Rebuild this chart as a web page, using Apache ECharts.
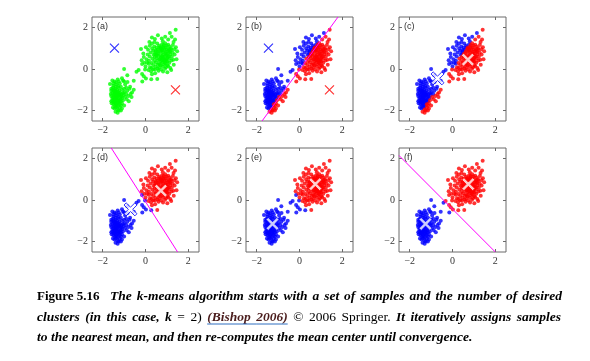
<!DOCTYPE html>
<html><head><meta charset="utf-8">
<script src="https://cdn.jsdelivr.net/npm/echarts@6/dist/echarts.min.js"></script>
<style>html,body{margin:0;padding:0;background:#fff}#c{width:590px;height:361px}</style>
</head><body><div id="c"></div>
<script>
// ---------------- DATA ----------------
const lowerCluster = [
[-1.55,-0.55],[-1.45,-0.6],[-1.3,-0.5],[-1.2,-0.7],[-1.05,-0.55],[-0.95,-0.75],[-1.5,-0.8],[-1.4,-0.85],[-1.35,-0.75],[-1.25,-0.9],
[-1.15,-0.85],[-1.6,-0.95],[-1.5,-1.0],[-1.42,-1.05],[-1.33,-1.0],[-1.22,-1.05],[-1.1,-1.0],[-1.0,-0.95],[-0.85,-1.05],[-1.55,-1.15],
[-1.45,-1.2],[-1.38,-1.15],[-1.3,-1.2],[-1.2,-1.15],[-1.12,-1.2],[-1.02,-1.25],[-0.9,-1.2],[-1.6,-1.3],[-1.5,-1.35],[-1.42,-1.3],
[-1.35,-1.4],[-1.28,-1.3],[-1.18,-1.35],[-1.08,-1.4],[-0.95,-1.35],[-0.8,-1.3],[-1.55,-1.5],[-1.47,-1.45],[-1.4,-1.55],[-1.32,-1.5],
[-1.25,-1.45],[-1.15,-1.55],[-1.05,-1.5],[-1.58,-1.65],[-1.5,-1.7],[-1.42,-1.62],[-1.35,-1.75],[-1.27,-1.65],[-1.2,-1.7],[-1.1,-1.65],
[-1.0,-1.75],[-1.52,-1.85],[-1.45,-1.9],[-1.38,-1.85],[-1.3,-1.95],[-1.2,-1.85],[-1.1,-1.9],[-1.4,-2.05],[-1.3,-2.1],[-1.25,-2.0],
[-1.6,-1.05],[-1.48,-1.25],[-1.35,-1.28],[-1.25,-1.22],[-1.4,-1.4],[-1.3,-1.6],[-1.45,-1.55],[-1.22,-1.55],[-1.5,-0.7],[-1.38,-0.65],
[-1.28,-1.1],[-1.18,-1.45],[-1.35,-1.1],[-1.45,-1.1],[-1.55,-1.4],[-1.62,-1.2],[-1.3,-1.8],[-1.42,-1.75],[-1.15,-1.75],[-0.98,-1.1],
[-0.9,-0.9],[-0.78,-1.55],[-0.7,-1.2],[-1.0,-0.6],[-1.1,-0.45],[-1.25,-0.6],[-1.4,-0.95],[-1.52,-0.9],[-1.33,-1.33],[-1.43,-1.48],
[-1.27,-1.52],[-1.37,-1.68],[-1.48,-1.6],[-1.2,-1.25],[-1.12,-1.32],[-1.5,-1.05],[-1.05,-1.15],[-0.88,-1.45],[-1.6,-1.55],[-1.28,-0.82],
[-0.75,-0.95],[-0.65,-1.35],[-1.15,-2.0],[-0.63,-1.13],[-1.66,-0.72],[-0.84,-0.62]
];
const bridgePoints = [
[-0.72,-0.85],[-0.55,-0.57],[-0.42,-0.13],[-0.32,-0.05],[-0.16,-0.24],[-0.08,-0.35],[0.02,-0.46],[-0.15,-0.6],[-1.0,0.0],[-0.55,-1.0],[-0.85,-0.3],[0.27,-0.49]
];
const upperCluster = [
[0.55,1.22],[0.77,1.18],[0.92,1.24],[1.06,1.17],[0.41,1.08],[0.63,1.12],[0.82,1.06],[0.97,1.13],[1.13,1.08],
[0.31,0.98],[0.51,1.02],[0.69,0.97],[0.86,1.01],[1.01,0.95],[1.19,1.0],[0.36,0.88],[0.56,0.92],[0.73,0.86],[0.89,0.91],[1.06,0.87],[1.21,0.92],
[0.24,0.79],[0.46,0.82],[0.61,0.77],[0.79,0.81],[0.94,0.76],[1.11,0.8],[1.27,0.78],[0.38,0.69],[0.53,0.72],[0.69,0.67],[0.84,0.71],[0.99,0.66],[1.16,0.7],
[0.2,0.6],[0.43,0.58],[0.59,0.62],[0.74,0.57],[0.91,0.61],[1.05,0.56],[1.23,0.6],[0.32,0.49],[0.51,0.52],[0.66,0.47],[0.81,0.51],[0.96,0.46],[1.13,0.5],
[0.16,0.4],[0.41,0.38],[0.58,0.42],[0.73,0.37],[0.89,0.41],[1.03,0.36],[1.21,0.41],[0.28,0.29],[0.48,0.31],[0.63,0.27],[0.79,0.32],[0.94,0.28],[1.11,0.3],
[0.36,0.19],[0.56,0.21],[0.71,0.17],[0.86,0.22],[1.01,0.18],[0.21,0.09],[0.46,0.11],[0.63,0.07],[0.81,0.12],[0.96,0.08],
[0.36,-0.01],[0.56,0.02],[0.73,-0.03],[0.91,0.01],[0.26,-0.11],[0.61,-0.09],[0.82,-0.12],
[0.62,0.85],[0.78,0.63],[0.87,0.45],[0.7,0.52],[0.95,0.83],[0.66,1.05],[0.84,1.15],[1.0,0.72],[0.52,0.65],[0.75,0.95],[0.9,0.3],
[1.08,0.63],[0.48,0.9],[0.83,0.58],[1.15,0.85],[0.95,1.05],[0.77,0.42],[0.45,0.72],[0.68,0.22],[1.0,0.5],
[0.79,0.9],[1.1,0.95],[0.72,1.03],[0.98,0.38],
[1.41,1.89],[1.14,1.73],[1.22,1.55],[0.92,1.55],[0.76,1.47],[0.44,1.44],[1.06,1.42],[0.58,1.62],[0.3,1.52],[0.81,1.34],[1.31,1.3],[1.38,1.42],
[1.42,1.05],[1.48,0.85],[1.36,0.7],[1.45,0.47],[1.32,0.2],[1.06,0.15],[1.16,0.05],[1.02,-0.16],[1.2,-0.05],[0.55,-0.48],[0.44,-0.02],[0.45,-0.2],
[0.3,-0.25],[0.14,-0.05],[-0.02,-0.02],[0.0,0.12],[0.15,0.25],[-0.05,0.3],[-0.16,0.24],[-0.18,0.42],[0.05,0.47],[0.1,0.7],[-0.1,0.75],[-0.21,0.96],
[0.02,1.05],[0.12,0.92],[0.2,1.12],[0.18,1.3],[0.3,1.22],[0.42,1.3],[1.28,1.15],[1.35,0.95],[1.3,0.45],[0.08,0.3],[-0.08,0.58],[0.28,0.05]
];
const meansInit  = [[-1.45, 1.0], [1.4, -1.0]];   // [blue, red]
const meansIter1 = [[-0.7, -0.45], [0.72, 0.45]];
const meansIter2 = [[-1.26, -1.15], [0.74, 0.76]];
const boundaryB = [[-1.75, -2.5], [1.8, 2.5]];
const boundaryD = [[-1.6, 2.5], [1.5, -2.5]];
const boundaryF = [[-2.5, 2.14], [2.0, -2.5]];
const panelLabels = ['(a)', '(b)', '(c)', '(d)', '(e)', '(f)'];
const tickValues = [-2, 0, 2];
const axisMin = -2.5, axisMax = 2.5;

// ---------------- LAYOUT ----------------
const colLeft = [92, 246, 399], rowTop = [17, 148], boxW = 107, boxH = 104;
const allPoints = lowerCluster.concat(bridgePoints, upperCluster);
const panels = [
  {assign: null,       means: meansInit,  thin: true,  line: null},
  {assign: meansInit,  means: meansInit,  thin: true,  line: boundaryB},
  {assign: meansInit,  means: meansIter1, thin: false, line: null},
  {assign: meansIter1, means: meansIter1, thin: false, line: boundaryD},
  {assign: meansIter1, means: meansIter2, thin: false, line: null},
  {assign: meansIter2, means: meansIter2, thin: false, line: boundaryF}
];
const BLUE = '#0000ff', RED = '#ff0000', GREEN = '#00ff00', MAG = '#ff00ff';
const thinX = 'path://M0,0 L10,10 M10,0 L0,10';
const thickX = 'path://M2,0 L6,4 L10,0 L12,2 L8,6 L12,10 L10,12 L6,8 L2,12 L0,10 L4,6 L0,2 Z';
const fmt = v => v < 0 ? '\u2212' + Math.abs(v) : String(v);
const DOT = 4;

const grids = [], xAxes = [], yAxes = [], series = [], graphics = [];
panels.forEach((p, i) => {
  const left = colLeft[i % 3], top = rowTop[Math.floor(i / 3)];
  grids.push({left, top, width: boxW, height: boxH, show: true, borderColor: '#6a6a6a', borderWidth: 1, backgroundColor: '#fff'});
  const tick = {show: true, inside: true, length: 3, lineStyle: {color: '#6a6a6a'}, customValues: tickValues};
  const lab = {customValues: tickValues, formatter: fmt, fontFamily: 'Liberation Serif', fontSize: 10, color: '#333', margin: 4};
  const line = {show: false, onZero: false};
  xAxes.push({type: 'value', gridIndex: i, min: axisMin, max: axisMax, position: 'bottom', axisLine: line, splitLine: {show: false}, axisTick: tick, axisLabel: lab});
  xAxes.push({type: 'value', gridIndex: i, min: axisMin, max: axisMax, position: 'top', axisLine: line, splitLine: {show: false}, axisTick: tick, axisLabel: {show: false}});
  yAxes.push({type: 'value', gridIndex: i, min: axisMin, max: axisMax, position: 'left', axisLine: line, splitLine: {show: false}, axisTick: tick, axisLabel: lab});
  yAxes.push({type: 'value', gridIndex: i, min: axisMin, max: axisMax, position: 'right', axisLine: line, splitLine: {show: false}, axisTick: tick, axisLabel: {show: false}});
  const ax = {xAxisIndex: 2 * i, yAxisIndex: 2 * i};
  if (!p.assign) {
    series.push(Object.assign({type: 'scatter', symbolSize: DOT, data: allPoints, itemStyle: {color: GREEN}}, ax));
  } else {
    const blue = [], red = [];
    allPoints.forEach(pt => {
      const d0 = (pt[0] - p.assign[0][0]) ** 2 + (pt[1] - p.assign[0][1]) ** 2;
      const d1 = (pt[0] - p.assign[1][0]) ** 2 + (pt[1] - p.assign[1][1]) ** 2;
      (d0 <= d1 ? blue : red).push(pt);
    });
    series.push(Object.assign({type: 'scatter', symbolSize: DOT, data: blue, itemStyle: {color: BLUE}}, ax));
    series.push(Object.assign({type: 'scatter', symbolSize: DOT, data: red, itemStyle: {color: RED}}, ax));
  }
  if (p.line) {
    series.push(Object.assign({type: 'line', data: p.line, symbol: 'none', lineStyle: {color: MAG, width: 1}, z: 3}, ax));
  }
  [BLUE, RED].forEach((c, k) => {
    series.push(Object.assign({type: 'scatter', data: [p.means[k]], z: 4,
      symbol: p.thin ? thinX : thickX, symbolSize: p.thin ? 9 : 13,
      itemStyle: p.thin ? {color: 'transparent', borderColor: c, borderWidth: 1.2} : {color: '#fff', borderColor: c, borderWidth: 1}}, ax));
  });
  graphics.push({type: 'text', x: left + 5, y: top + 5, z: 10, style: {text: panelLabels[i], font: '9px "Liberation Sans"', fill: '#333'}});
});

// ---------------- CAPTION ----------------
const FS = 13.5;
const fonts = {
  b: `bold 13px "Liberation Serif"`,
  i: `italic bold ${FS}px "Liberation Serif"`,
  r: `${FS}px "Liberation Serif"`,
  l: `italic bold ${FS}px "Liberation Serif"`
};
const colors = {b: '#000', i: '#000', r: '#000', l: '#4a1c1c'};
const mctx = document.createElement('canvas').getContext('2d');
function tw(t, s) { mctx.font = fonts[s]; return mctx.measureText(t).width; }
function layoutLine(tokens, x0, x1, base, justify) {
  const ws = tokens.map(t => tw(t[0], t[1]));
  const total = ws.reduce((a, b) => a + b, 0);
  const gap = justify ? (x1 - x0 - total) / (tokens.length - 1) : tw(' ', 'i');
  let x = x0;
  tokens.forEach((t, k) => {
    graphics.push({type: 'text', x: x, y: base - FS * 0.33, z: 10,
      style: {text: t[0], font: fonts[t[1]], fill: colors[t[1]], textVerticalAlign: 'middle'}});
    if (t[1] === 'l') {
      graphics.push({type: 'line', z: 10, shape: {x1: x, y1: base + 2, x2: x + ws[k] + (k + 1 < tokens.length && tokens[k + 1][1] === 'l' ? gap : 0), y2: base + 2}, style: {stroke: '#2f6fc0', lineWidth: 1}});
    }
    x += ws[k] + gap;
  });
}
const line1 = 'The k-means algorithm starts with a set of samples and the number of desired'.split(' ').map(w => [w, 'i']);
graphics.push({type: 'text', x: 37, y: 301 - FS * 0.33, z: 10, style: {text: 'Figure 5.16', font: fonts.b, fill: '#000', textVerticalAlign: 'middle'}});
layoutLine(line1, 110, 562, 301, true);
const line2 = [['clusters', 'i'], ['(in', 'i'], ['this', 'i'], ['case,', 'i'], ['k', 'i'], ['=', 'r'], ['2)', 'r'],
  ['(Bishop', 'l'], ['2006)', 'l'], ['\u00a9', 'r'], ['2006', 'r'], ['Springer.', 'r'], ['It', 'i'], ['iteratively', 'i'], ['assigns', 'i'], ['samples', 'i']];
layoutLine(line2, 37, 561, 322, true);
const line3 = 'to the nearest mean, and then re-computes the mean center until convergence.'.split(' ').map(w => [w, 'i']);
layoutLine(line3, 37, 562, 342, false);

const chart = echarts.init(document.getElementById('c'), null, {renderer: 'canvas'});
chart.setOption({animation: false, backgroundColor: '#fff', grid: grids, xAxis: xAxes, yAxis: yAxes, series, graphic: graphics});
</script></body></html>
